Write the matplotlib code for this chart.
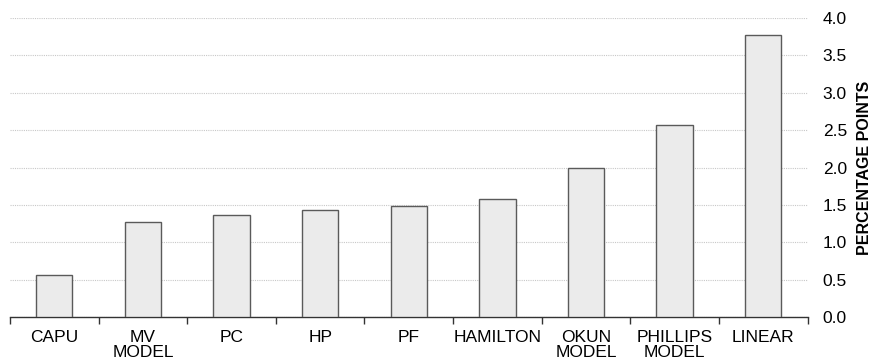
import matplotlib
matplotlib.use("Agg")
import matplotlib.pyplot as plt
import numpy as np
from matplotlib.ticker import FixedLocator

plt.rcParams['font.family'] = ['Liberation Sans', 'DejaVu Sans']

categories = ["CAPU", "MV\nMODEL", "PC", "HP", "PF", "HAMILTON", "OKUN\nMODEL", "PHILLIPS\nMODEL", "LINEAR"]
values = [0.56, 1.27, 1.36, 1.43, 1.49, 1.58, 1.99, 2.57, 3.77]
yticks = [0.0, 0.5, 1.0, 1.5, 2.0, 2.5, 3.0, 3.5, 4.0]
ylabel = "PERCENTAGE POINTS"

fig = plt.figure(figsize=(8.75, 3.64), dpi=100)
ax = fig.add_axes([0.0114, 0.129, 0.9115, 0.8215])

x = np.arange(len(categories))
ax.bar(x, values, width=0.41, color="#ebebeb", edgecolor="#5a5a5a", linewidth=1.0, zorder=3)

ax.set_xlim(-0.5, len(categories) - 0.5)
ax.set_ylim(0, 4.0)
ax.set_yticks(yticks)
ax.set_yticklabels([f"{v:.1f}" for v in yticks], fontsize=12.5)
ax.yaxis.tick_right()
ax.yaxis.set_label_position("right")
ax.tick_params(axis='y', length=0, pad=11)
ax.set_ylabel(ylabel, fontsize=11.5, fontweight='bold', labelpad=7)

ax.set_xticks(x)
ax.set_xticklabels(categories, fontsize=12.5, linespacing=1.05)
ax.tick_params(axis='x', which='major', length=0, pad=9)
ax.xaxis.set_minor_locator(FixedLocator(np.arange(-0.5, len(categories), 1.0)))
ax.tick_params(axis='x', which='minor', length=5, width=1, color="#333333", direction='out')

ax.grid(axis='y', linestyle=(0, (1, 1)), color="#c8c8c8", linewidth=0.8, zorder=0)
for s in ['top', 'left', 'right']:
    ax.spines[s].set_visible(False)
ax.spines['bottom'].set_color("#333333")
ax.spines['bottom'].set_linewidth(1.0)

fig.savefig("out.png", dpi=100)
